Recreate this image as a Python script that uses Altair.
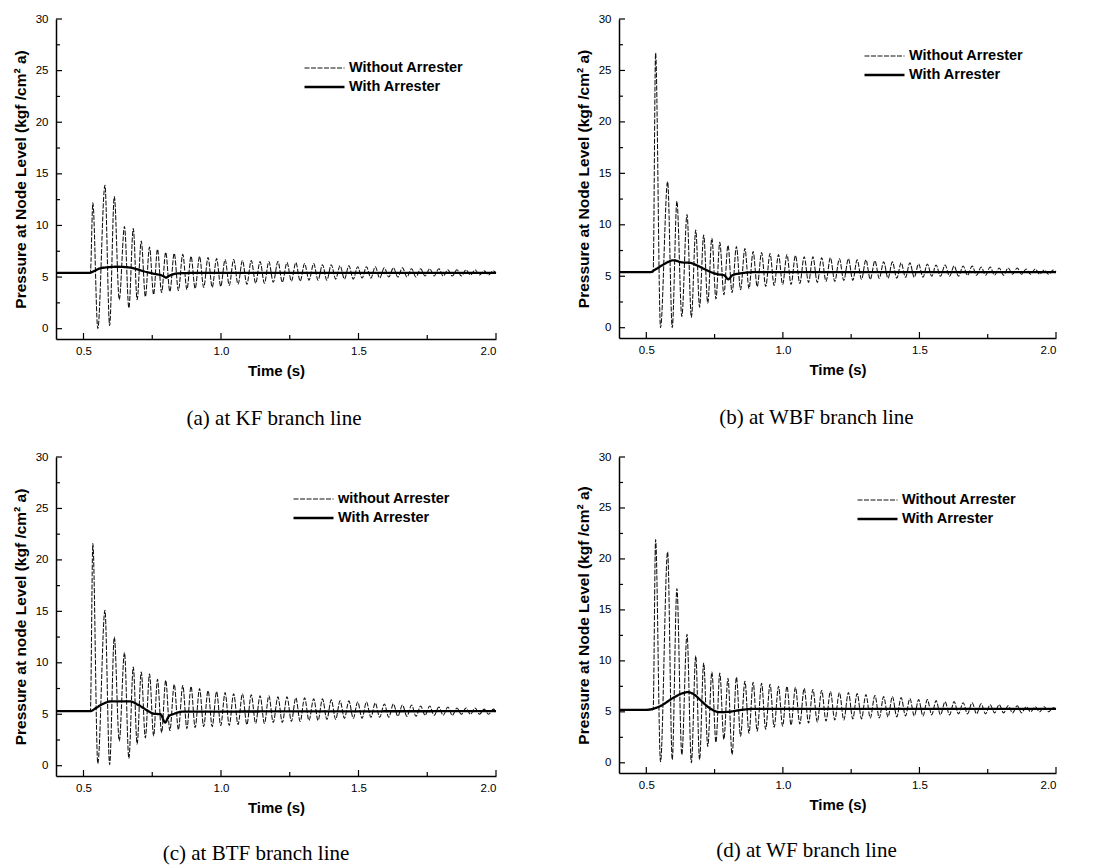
import altair as alt
import pandas as pd

# ---------------- axes ----------------
X_DOMAIN = [0.4, 2.0]
Y_DOMAIN = [-1, 30]
X_MAJOR = [0.5, 1.0, 1.5, 2.0]
X_MINOR = [0.75, 1.25, 1.75]
Y_MAJOR = [0, 5, 10, 15, 20, 25, 30]
Y_MINOR = [2.5, 7.5, 12.5, 17.5, 22.5, 27.5]

# ---------------- shared times of the oscillation extrema (s) ----------------
T_START = [0.4, 0.525]
T_PEAK = [0.534, 0.578, 0.612, 0.649, 0.681, 0.710, 0.740, 0.769, 0.799, 0.830,
          0.861, 0.891, 0.922, 0.953, 0.984, 1.015, 1.046, 1.078, 1.110, 1.142,
          1.174, 1.207, 1.240, 1.272, 1.304, 1.337, 1.369, 1.401, 1.433, 1.465,
          1.497, 1.529, 1.561, 1.594, 1.627, 1.660, 1.693, 1.726, 1.759, 1.792,
          1.825, 1.858, 1.891, 1.924, 1.957, 1.990]
T_TROUGH = [0.552, 0.595, 0.630, 0.665, 0.695, 0.725, 0.755, 0.784, 0.814, 0.845,
            0.876, 0.906, 0.937, 0.968, 0.999, 1.030, 1.062, 1.094, 1.126, 1.158,
            1.190, 1.223, 1.256, 1.288, 1.320, 1.353, 1.385, 1.417, 1.449, 1.481,
            1.513, 1.545, 1.577, 1.610, 1.643, 1.676, 1.709, 1.742, 1.775, 1.808,
            1.841, 1.874, 1.907, 1.940, 1.973]
T_END = 2.0

# ---------------- (a) KF branch line ----------------
A_BASE = 5.4
A_PEAK = [12.2, 13.9, 12.8, 9.9, 9.7, 8.5, 7.9, 7.7, 7.4, 7.3,
          7.2, 7.0, 7.0, 6.9, 6.8, 6.7, 6.7, 6.6, 6.6, 6.5,
          6.5, 6.5, 6.4, 6.4, 6.3, 6.3, 6.2, 6.2, 6.1, 6.1,
          6.0, 6.0, 6.0, 5.9, 5.9, 5.9, 5.8, 5.8, 5.8, 5.8,
          5.7, 5.7, 5.7, 5.7, 5.6, 5.6]
A_TROUGH = [0.0, 0.3, 2.8, 2.0, 2.8, 3.1, 3.3, 3.5, 3.6, 3.7,
            3.8, 3.9, 4.0, 4.0, 4.1, 4.2, 4.3, 4.3, 4.4, 4.4,
            4.5, 4.5, 4.6, 4.6, 4.7, 4.7, 4.7, 4.8, 4.8, 4.8,
            4.9, 4.9, 4.9, 5.0, 5.0, 5.0, 5.0, 5.1, 5.1, 5.1,
            5.1, 5.1, 5.2, 5.2, 5.2]
A_END = 5.4
A_WITH_T = [0.4, 0.52, 0.54, 0.56, 0.59, 0.62, 0.66, 0.69, 0.72, 0.76, 0.79, 0.80, 0.81, 0.84, 0.9, 2.0]
A_WITH_V = [5.4, 5.4, 5.6, 5.85, 5.95, 6.0, 5.95, 5.8, 5.55, 5.3, 5.1, 4.95, 5.1, 5.35, 5.4, 5.4]

# ---------------- (b) WBF branch line ----------------
B_BASE = 5.4
B_PEAK = [26.7, 14.2, 12.3, 11.0, 9.5, 9.0, 8.7, 8.3, 8.0, 7.9,
          7.7, 7.4, 7.3, 7.2, 7.1, 7.1, 7.0, 6.9, 6.9, 6.8,
          6.8, 6.7, 6.7, 6.6, 6.6, 6.5, 6.4, 6.4, 6.3, 6.3,
          6.2, 6.2, 6.1, 6.1, 6.0, 6.0, 6.0, 5.9, 5.9, 5.8,
          5.8, 5.8, 5.7, 5.7, 5.6, 5.6]
B_TROUGH = [0.0, 0.0, 1.1, 1.0, 2.0, 2.4, 2.8, 3.2, 3.4, 3.7,
            3.8, 4.0, 4.0, 4.1, 4.2, 4.2, 4.3, 4.4, 4.4, 4.5,
            4.5, 4.6, 4.6, 4.7, 4.7, 4.8, 4.8, 4.8, 4.9, 4.9,
            4.9, 5.0, 5.0, 5.0, 5.0, 5.1, 5.1, 5.1, 5.1, 5.1,
            5.2, 5.2, 5.2, 5.2, 5.2]
B_END = 5.4
B_WITH_T = [0.4, 0.515, 0.53, 0.56, 0.6, 0.63, 0.66, 0.69, 0.72, 0.76, 0.785, 0.80, 0.815, 0.85, 0.9, 2.0]
B_WITH_V = [5.4, 5.4, 5.6, 6.1, 6.55, 6.35, 6.3, 6.0, 5.6, 5.2, 5.1, 4.7, 5.1, 5.3, 5.4, 5.4]

# ---------------- (c) BTF branch line ----------------
C_BASE = 5.3
C_PEAK = [21.6, 15.1, 12.5, 11.0, 9.6, 9.1, 8.9, 8.4, 8.3, 7.9,
          7.8, 7.7, 7.5, 7.3, 7.2, 7.1, 7.0, 7.0, 6.9, 6.8,
          6.8, 6.7, 6.7, 6.6, 6.6, 6.5, 6.5, 6.4, 6.3, 6.3,
          6.2, 6.2, 6.1, 6.0, 6.0, 5.9, 5.9, 5.8, 5.8, 5.7,
          5.7, 5.6, 5.6, 5.6, 5.5, 5.5]
C_TROUGH = [0.2, 0.1, 2.4, 0.7, 2.1, 2.7, 2.9, 3.2, 3.4, 3.5,
            3.6, 3.7, 3.8, 3.8, 3.9, 3.9, 4.0, 4.0, 4.1, 4.1,
            4.2, 4.2, 4.3, 4.3, 4.4, 4.4, 4.5, 4.5, 4.6, 4.6,
            4.6, 4.7, 4.7, 4.7, 4.8, 4.8, 4.8, 4.9, 4.9, 4.9,
            4.9, 5.0, 5.0, 5.0, 5.0]
C_END = 5.3
C_WITH_T = [0.4, 0.525, 0.545, 0.57, 0.6, 0.67, 0.7, 0.73, 0.755, 0.78, 0.797, 0.81, 0.83, 0.86, 2.0]
C_WITH_V = [5.3, 5.3, 5.6, 6.0, 6.25, 6.25, 5.9, 5.4, 5.05, 5.0, 4.2, 4.8, 5.05, 5.25, 5.3]

# ---------------- (d) WF branch line ----------------
D_BASE = 5.2
D_PEAK = [21.9, 20.7, 17.1, 12.6, 10.5, 9.8, 8.9, 8.8, 8.3, 8.4,
          8.0, 7.9, 7.8, 7.7, 7.5, 7.5, 7.4, 7.3, 7.2, 7.1,
          7.0, 6.9, 6.9, 6.8, 6.7, 6.6, 6.5, 6.5, 6.4, 6.3,
          6.2, 6.2, 6.1, 6.0, 6.0, 5.9, 5.9, 5.8, 5.7, 5.7,
          5.6, 5.6, 5.5, 5.5, 5.5, 5.4]
D_TROUGH = [0.1, 0.3, 0.8, 0.0, 0.3, 1.6, 2.0, 2.3, 0.8, 2.6,
            2.9, 3.1, 3.3, 3.5, 3.6, 3.7, 3.8, 3.9, 4.0, 4.1,
            4.2, 4.2, 4.3, 4.3, 4.4, 4.4, 4.5, 4.5, 4.6, 4.6,
            4.6, 4.7, 4.7, 4.7, 4.8, 4.8, 4.8, 4.8, 4.9, 4.9,
            4.9, 4.9, 5.0, 5.0, 5.0]
D_END = 5.3
D_WITH_T = [0.4, 0.5, 0.55, 0.6, 0.63, 0.652, 0.675, 0.7, 0.73, 0.77, 0.80, 0.85, 0.9, 2.0]
D_WITH_V = [5.2, 5.2, 5.55, 6.4, 6.8, 6.93, 6.7, 6.1, 5.4, 4.97, 5.0, 5.2, 5.3, 5.3]

FONT = "Liberation Sans"
SERIF = "Liberation Serif"


def panel(base, peaks, troughs, end, with_t, with_v, names, ytitle, caption,
          lx, ly, width, height, cap_dx, cap_offset):
    rows = [(T_START[0], base), (T_START[1], base)]
    for i, p in enumerate(peaks):
        rows.append((T_PEAK[i], p))
        if i < len(troughs):
            rows.append((T_TROUGH[i], troughs[i]))
    rows.append((T_END, end))
    df_wo = pd.DataFrame(rows, columns=["time", "pressure"])
    df_wo["series"] = names[0]
    df_w = pd.DataFrame({"time": with_t, "pressure": with_v})
    df_w["series"] = names[1]

    xs = alt.Scale(domain=X_DOMAIN, nice=False, zero=False)
    ys = alt.Scale(domain=Y_DOMAIN, nice=False, zero=False)
    xax = alt.Axis(values=X_MAJOR, format=".1f", title="Time (s)", labelPadding=6,
                   titlePadding=7, grid=False, ticks=False, titleFontSize=15)
    yax = alt.Axis(values=Y_MAJOR, title=ytitle, labelPadding=8, titlePadding=7,
                   grid=False, ticks=False, titleFontSize=15.5)
    X = alt.X("time:Q", scale=xs, axis=xax)
    Y = alt.Y("pressure:Q", scale=ys, axis=yax)

    leg = alt.Legend(title=None, orient="none", legendX=lx, legendY=ly,
                     symbolType="stroke", symbolSize=1600, clipHeight=16, rowPadding=3,
                     labelFont=FONT, labelFontSize=14.5, labelFontWeight="bold",
                     labelColor="black", labelOffset=3)
    enc = dict(
        x=X, y=Y,
        color=alt.Color("series:N", scale=alt.Scale(domain=names, range=["#111111", "black"]), legend=leg),
        strokeDash=alt.StrokeDash("series:N", scale=alt.Scale(domain=names, range=[[5, 1.5], [1, 0]]), legend=leg),
        strokeWidth=alt.StrokeWidth("series:N", scale=alt.Scale(domain=names, range=[1.05, 2.3]), legend=leg),
    )
    l_wo = alt.Chart(df_wo).mark_line(interpolate="monotone").encode(**enc)
    l_w = alt.Chart(df_w).mark_line(interpolate="monotone").encode(**enc)

    xt_major = alt.Chart(pd.DataFrame({"time": X_MAJOR})).mark_rule(color="black", strokeWidth=1.2).encode(
        x=X, y=alt.value(height), y2=alt.value(height - 6))
    xt_minor = alt.Chart(pd.DataFrame({"time": X_MINOR})).mark_rule(color="black", strokeWidth=1.2).encode(
        x=X, y=alt.value(height), y2=alt.value(height - 4))
    yt_major = alt.Chart(pd.DataFrame({"pressure": Y_MAJOR})).mark_rule(color="black", strokeWidth=1.2).encode(
        y=Y, x=alt.value(0), x2=alt.value(6))
    yt_minor = alt.Chart(pd.DataFrame({"pressure": Y_MINOR})).mark_rule(color="black", strokeWidth=1.2).encode(
        y=Y, x=alt.value(0), x2=alt.value(4))

    return alt.layer(l_wo, l_w, xt_major, xt_minor, yt_major, yt_minor).properties(
        width=width, height=height,
        title=alt.TitleParams(text=caption, orient="bottom", font=SERIF, fontSize=21,
                              fontWeight="normal", color="black", offset=cap_offset, dx=cap_dx),
    )


NAMES_STD = ["Without Arrester", "With Arrester"]
NAMES_C = ["without Arrester", "With Arrester"]
YT = "Pressure at Node Level (kgf /cm\u00b2 a)"
YT_C = "Pressure at node Level (kgf /cm\u00b2 a)"

pa = panel(A_BASE, A_PEAK, A_TROUGH, A_END, A_WITH_T, A_WITH_V, NAMES_STD, YT,
           "(a) at KF branch line", 247, 41, 440, 320, -2, 29)
pb = panel(B_BASE, B_PEAK, B_TROUGH, B_END, B_WITH_T, B_WITH_V, NAMES_STD, YT,
           "(b) at WBF branch line", 244, 29, 437, 319, -21, 29)
pc = panel(C_BASE, C_PEAK, C_TROUGH, C_END, C_WITH_T, C_WITH_V, NAMES_C, YT_C,
           "(c) at BTF branch line", 236, 34, 440, 319, -20, 27)
pd_ = panel(D_BASE, D_PEAK, D_TROUGH, D_END, D_WITH_T, D_WITH_V, NAMES_STD, YT,
            "(d) at WF branch line", 237, 35, 437, 316, -31, 27)

ind = dict(color="independent", strokeDash="independent", strokeWidth="independent",
           x="independent", y="independent")
indl = dict(color="independent", strokeDash="independent", strokeWidth="independent")

row1 = alt.hconcat(pa, pb, spacing=75).resolve_scale(**ind).resolve_legend(**indl)
row2 = alt.hconcat(pc, pd_, spacing=75).resolve_scale(**ind).resolve_legend(**indl)

chart = alt.vconcat(row1, row2, spacing=22).resolve_scale(**ind).resolve_legend(**indl
).properties(background="white").configure_view(strokeWidth=0, stroke="transparent").configure_axis(
    domainColor="black", domainWidth=1.5, ticks=False, grid=False,
    labelFont=FONT, labelFontSize=11.5, labelColor="black",
    titleFont=FONT, titleFontWeight="bold", titleColor="black",
)

chart.save("out.html", embed_options={"renderer": "svg", "actions": False})
